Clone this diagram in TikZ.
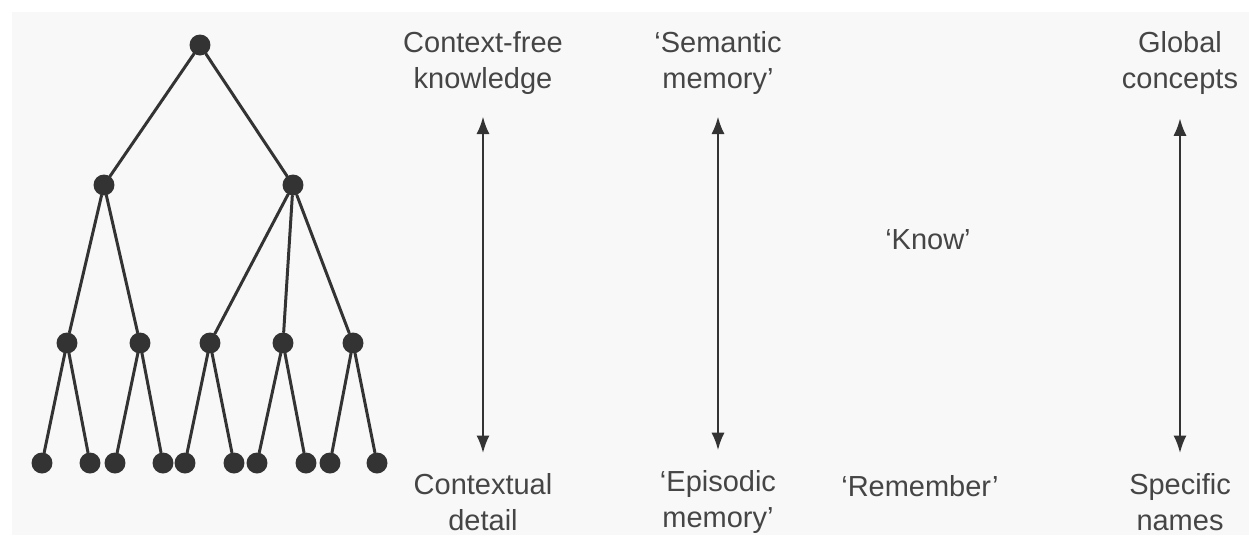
\documentclass[tikz,border=0pt]{standalone}
\usepackage{fontspec}
\setmainfont{Liberation Sans}
\usetikzlibrary{arrows.meta, positioning}
\definecolor{inkgrey}{HTML}{333333}
\definecolor{textgrey}{HTML}{454545}
\definecolor{paper}{HTML}{F8F8F8}

\begin{document}
\begin{tikzpicture}[x=0.02cm, y=-0.02cm, line cap=round, line join=round,
    dot/.style={circle, fill=inkgrey, inner sep=0pt, minimum size=0.42cm},
    branch/.style={draw=inkgrey, line width=1.7pt},
    lbl/.style={font=\fontsize{16.5}{20.5}\selectfont, text=textgrey, align=center},
    scale arrow/.style={{Latex[length=10pt, width=7.5pt]}-{Latex[length=10pt, width=7.5pt]}, draw=inkgrey, line width=1.3pt}]
      \useasboundingbox (0,0) rectangle (1249,535);
      \fill[paper] (12,12) rectangle (1249,535);

      % Tree
      \node[dot] (r) at (200,45) {};
      \node[dot] (a) at (104,185) {};
      \node[dot] (b) at (293,185) {};
      \node[dot] (a1) at (67,343) {};
      \node[dot] (a2) at (140,343) {};
      \node[dot] (b1) at (210,343) {};
      \node[dot] (b2) at (283,343) {};
      \node[dot] (b3) at (353,343) {};
      \foreach \i/\x in {1/42, 2/90, 3/115, 4/163, 5/185, 6/234, 7/257, 8/306, 9/330, 10/377}
        \node[dot] (l\i) at (\x,463) {};
      \foreach \p/\c in {r/a, r/b, a/a1, a/a2, b/b1, b/b2, b/b3,
                         a1/l1, a1/l2, a2/l3, a2/l4, b1/l5, b1/l6, b2/l7, b2/l8, b3/l9, b3/l10}
        \draw[branch] (\p) -- (\c);

      % Context
      \node[lbl] (cfree) at (483,63) {Context-free\\knowledge};
      \node[lbl] (cdet) at (483,502) {Contextual\\detail};
      \draw[scale arrow, shorten <=9pt, shorten >=8pt] (cfree) -- (cdet);

      % Memory
      \node[lbl] (sem) at (718,63) {‘Semantic\\memory’};
      \node[lbl] (epi) at (718,502) {‘Episodic\\memory’};
      \draw[scale arrow, shorten <=9pt, shorten >=8pt] (sem) -- (epi);

      % Know / Remember
      \node[lbl] (know) at (928,240) {‘Know’};
      \node[lbl] (rem) at (920,486) {‘Remember’};

      % Concepts
      \node[lbl] (glob) at (1180,63) {Global\\concepts};
      \node[lbl] (spec) at (1180,502) {Specific\\names};
      \draw[scale arrow, shorten <=10pt, shorten >=8pt] (glob) -- (spec);
    \end{tikzpicture}
\end{document}
